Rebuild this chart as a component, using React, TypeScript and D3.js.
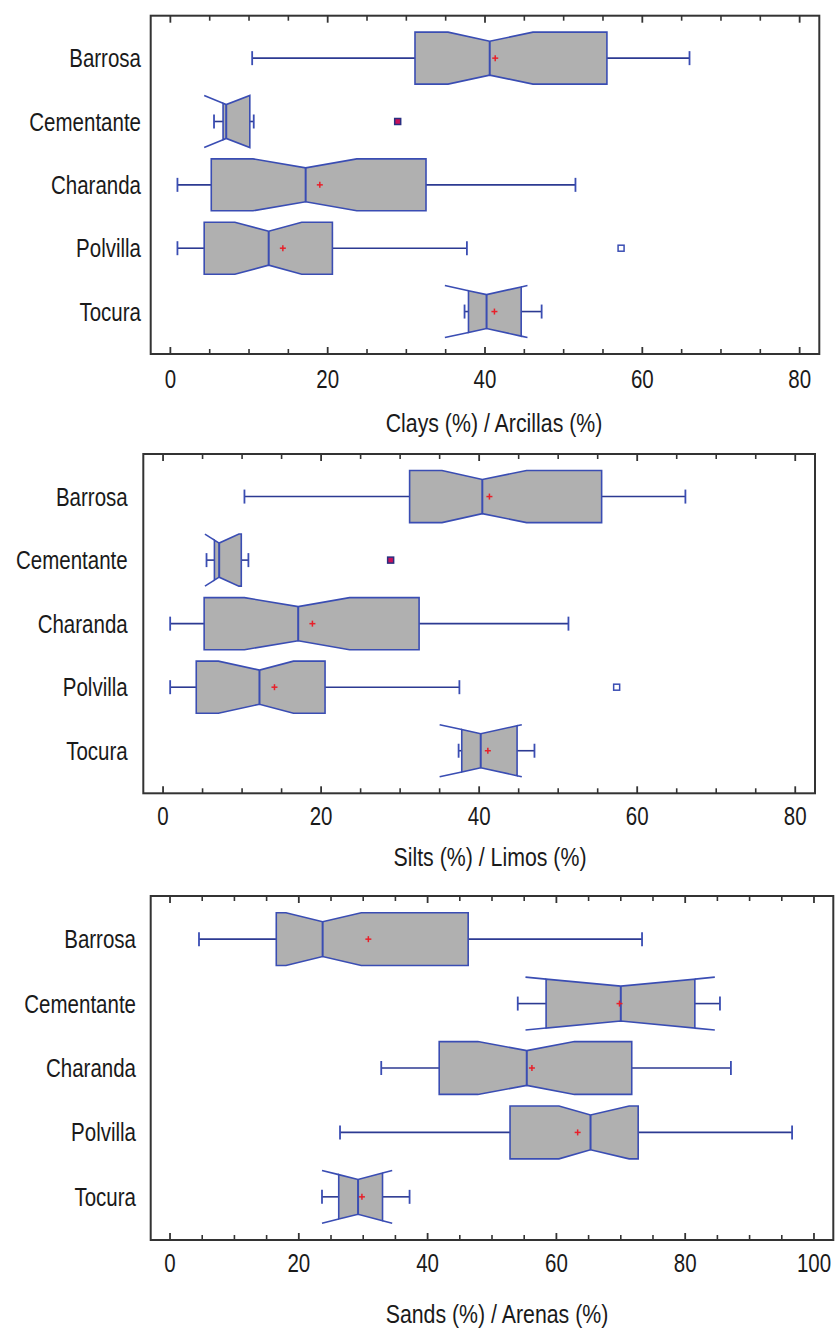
import * as d3 from "d3"

const categories = ["Barrosa", "Cementante", "Charanda", "Polvilla", "Tocura"]

// each row: [whisker low, Q1, median, Q3, whisker high, mean, notch low, notch high]
const clays = [
  [10.4, 31.1, 40.6, 55.5, 66.0, 41.3, 35.3, 46.1],
  [5.55, 6.7, 7.1, 10.1, 10.6, null, 4.3, 10.1],
  [0.9, 5.2, 17.2, 32.5, 51.5, 19.0, 10.5, 23.7],
  [0.9, 4.3, 12.5, 20.6, 37.7, 14.3, 8.2, 16.7],
  [37.4, 37.9, 40.2, 44.6, 47.2, 41.2, 34.9, 45.4],
]
const claysOutliers = [[], [28.9], [], [57.3], []]

const silts = [
  [10.3, 31.2, 40.4, 55.5, 66.1, 41.3, 35.3, 46.0],
  [5.5, 6.5, 7.1, 9.9, 10.8, null, 5.3, 9.6],
  [0.9, 5.2, 17.1, 32.4, 51.3, 18.9, 10.3, 23.6],
  [0.9, 4.2, 12.2, 20.5, 37.5, 14.1, 7.0, 16.5],
  [37.4, 37.8, 40.2, 44.8, 47.0, 41.1, 35.0, 45.4],
]
const siltsOutliers = [[], [28.8], [], [57.4], []]

const sands = [
  [4.5, 16.5, 23.7, 46.3, 73.3, 30.8, 18.0, 29.7],
  [54.0, 58.4, 70.0, 81.5, 85.4, 69.8, 55.2, 84.6],
  [32.8, 41.8, 55.4, 71.7, 87.1, 56.2, 47.8, 62.8],
  [26.4, 52.8, 65.3, 72.7, 96.6, 63.3, 60.4, 71.3],
  [23.6, 26.2, 29.2, 33.0, 37.2, 29.8, 23.6, 34.5],
]
const sandsOutliers = [[], [], [], [], []]

const axisTicks80 = [0, 20, 40, 60, 80]
const axisTicks100 = [0, 20, 40, 60, 80, 100]

const FONT = "'Liberation Sans', Arial, sans-serif"
const BLUE = "#3a4db3"
const WHISK = "#2c3a92"
const FILL = "#b0b0b0"
const RED = "#e8202a"

const panels = [
  { title: "Clays (%) / Arcillas (%)", stats: clays, outliers: claysOutliers, ticks: axisTicks80,
    domain: [-2.5, 82.5], left: 150.7, right: 819.3, top: 15.7, bottom: 354, labelRight: 141, titleX: 494, tickDy: 34, titleDy: 78 },
  { title: "Silts (%) / Limos (%)", stats: silts, outliers: siltsOutliers, ticks: axisTicks80,
    domain: [-2.5, 82.5], left: 143.3, right: 815, top: 454, bottom: 793.3, labelRight: 127.7, titleX: 490, tickDy: 32, titleDy: 73 },
  { title: "Sands (%) / Arenas (%)", stats: sands, outliers: sandsOutliers, ticks: axisTicks100,
    domain: [-3, 103], left: 150.7, right: 833.3, top: 896, bottom: 1240, labelRight: 136, titleX: 497, tickDy: 32, titleDy: 83 },
]

// condensed look: regular sans squeezed horizontally
function NarrowText({ x, y, dy = "0", anchor = "middle", size, children }) {
  return (
    <text transform={`translate(${x},${y}) scale(0.82,1)`} dy={dy} textAnchor={anchor} fontSize={size} fill="#1a1a1a">
      {children}
    </text>
  )
}

function NotchBox({ s, cy, x, h, outs }) {
  const [lo, q1, med, q3, hi, mean, nLo, nHi] = s
  const indent = 9
  const top = cy - h / 2
  const bot = cy + h / 2
  // how far the notch pushes in at value v
  const off = v => {
    if (v <= nLo || v >= nHi) return 0
    if (v <= med) return indent * (v - nLo) / (med - nLo)
    return indent * (nHi - v) / (nHi - med)
  }
  const xs = Array.from(new Set([q1, nLo, med, nHi, q3].filter(v => v >= q1 && v <= q3))).sort((a, b) => a - b)
  const topPts = xs.map(v => [x(v), top + off(v)])
  const botPts = xs.slice().reverse().map(v => [x(v), bot - off(v)])
  const path = d3.line()([...topPts, ...botPts]) + "Z"
  const capH = 14
  return (
    <g>
      <line x1={x(lo)} x2={x(q1)} y1={cy} y2={cy} stroke={WHISK} strokeWidth={1.6} />
      <line x1={x(q3)} x2={x(hi)} y1={cy} y2={cy} stroke={WHISK} strokeWidth={1.6} />
      <line x1={x(lo)} x2={x(lo)} y1={cy - capH / 2} y2={cy + capH / 2} stroke={BLUE} strokeWidth={1.8} />
      <line x1={x(hi)} x2={x(hi)} y1={cy - capH / 2} y2={cy + capH / 2} stroke={BLUE} strokeWidth={1.8} />
      <path d={path} fill={FILL} stroke={BLUE} strokeWidth={1.6} />
      {nLo < q1 && <>
        <path d={d3.line()([[x(nLo), top], [x(q1), top + off(q1)]])} fill="none" stroke={BLUE} strokeWidth={1.6} />
        <path d={d3.line()([[x(nLo), bot], [x(q1), bot - off(q1)]])} fill="none" stroke={BLUE} strokeWidth={1.6} />
      </>}
      {nHi > q3 && <>
        <path d={d3.line()([[x(q3), top + off(q3)], [x(nHi), top]])} fill="none" stroke={BLUE} strokeWidth={1.6} />
        <path d={d3.line()([[x(q3), bot - off(q3)], [x(nHi), bot]])} fill="none" stroke={BLUE} strokeWidth={1.6} />
      </>}
      <line x1={x(med)} x2={x(med)} y1={top + off(med)} y2={bot - off(med)} stroke={BLUE} strokeWidth={2} />
      {mean != null && <g stroke={RED} strokeWidth={1.5}>
        <line x1={x(mean) - 3} x2={x(mean) + 3} y1={cy} y2={cy} />
        <line x1={x(mean)} x2={x(mean)} y1={cy - 3} y2={cy + 3} />
      </g>}
      {outs.map((o, i) => (
        <rect key={i} x={x(o) - 3} y={cy - 3} width={6} height={6}
          fill={o < 40 ? "#c8105a" : "#fff"} stroke={o < 40 ? "#2a2f80" : BLUE} strokeWidth={1.5} />
      ))}
    </g>
  )
}

function Panel({ p }) {
  const x = d3.scaleLinear().domain(p.domain).range([p.left, p.right])
  const y = d3.scalePoint().domain(categories).range([p.top, p.bottom]).padding(0.67)
  const step = y.step()
  const maxTick = p.ticks[p.ticks.length - 1]
  const minor = d3.range(0, maxTick + 1, 5).filter(v => v % 20 !== 0)
  return (
    <g>
      {categories.map((c, i) => (
        <NotchBox key={c} s={p.stats[i]} cy={y(c)} x={x} h={step * 0.82} outs={p.outliers[i]} />
      ))}
      <rect x={p.left} y={p.top} width={p.right - p.left} height={p.bottom - p.top} fill="none" stroke="#333" strokeWidth={2} />
      {p.ticks.map(t => (
        <g key={"M" + t} stroke="#333" strokeWidth={1.8}>
          <line x1={x(t)} x2={x(t)} y1={p.bottom} y2={p.bottom - 7} />
          <line x1={x(t)} x2={x(t)} y1={p.top} y2={p.top + 7} />
        </g>
      ))}
      {minor.map(t => (
        <g key={"m" + t} stroke="#333" strokeWidth={1.6}>
          <line x1={x(t)} x2={x(t)} y1={p.bottom} y2={p.bottom - 5} />
          <line x1={x(t)} x2={x(t)} y1={p.top} y2={p.top + 5} />
        </g>
      ))}
      {p.ticks.map(t => (
        <NarrowText key={"l" + t} x={x(t)} y={p.bottom + p.tickDy} size={25}>{t}</NarrowText>
      ))}
      {categories.map(c => (
        <NarrowText key={"c" + c} x={p.labelRight} y={y(c)} dy="0.36em" anchor="end" size={25}>{c}</NarrowText>
      ))}
      <NarrowText x={p.titleX} y={p.bottom + p.titleDy} size={26}>{p.title}</NarrowText>
    </g>
  )
}

export default function App() {
  return (
    <svg width={835} height={1328} style={{ position: "absolute", left: 0, top: 0, background: "#fff" }} fontFamily={FONT}>
      {panels.map((p, i) => <Panel key={i} p={p} />)}
    </svg>
  )
}
